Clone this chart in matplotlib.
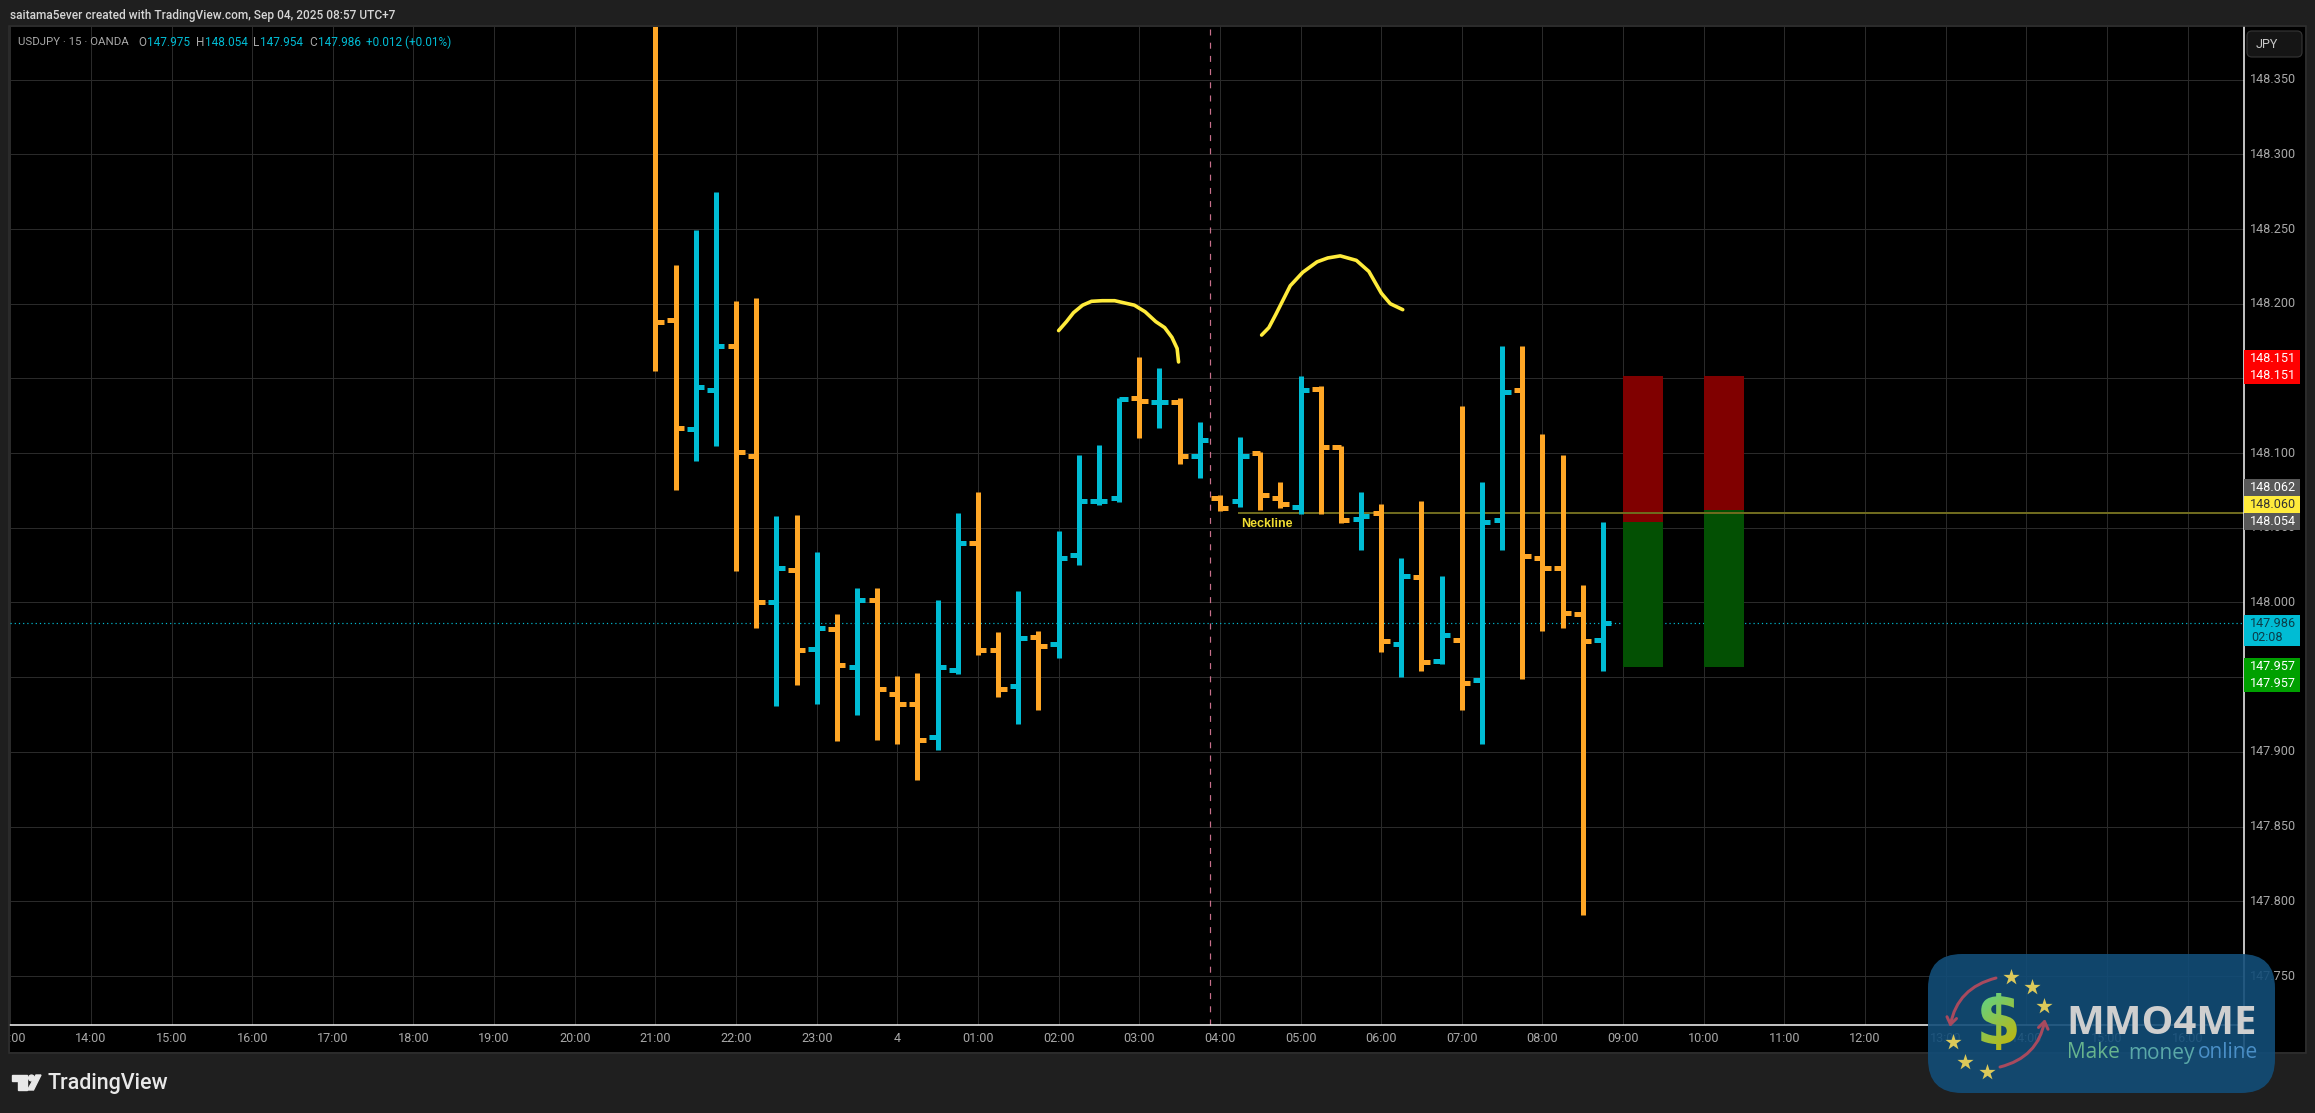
import matplotlib

matplotlib.use("Agg")
import matplotlib.pyplot as plt
import numpy as np
from matplotlib.font_manager import FontProperties
from matplotlib.patches import Circle, FancyArrowPatch, FancyBboxPatch, PathPatch, Polygon, Rectangle
from matplotlib.path import Path
from matplotlib.textpath import TextPath

plt.rcParams["font.family"] = ["Roboto", "DejaVu Sans"]

# 15-minute bars, first bar is 21:00 (its open and high are above the pane)
opens = [148.400, 148.189, 148.116, 148.142, 148.172, 148.098, 148.000, 148.022, 147.969, 147.982,
         147.957, 148.002, 147.939, 147.932, 147.910, 147.955, 148.040, 147.968, 147.944, 147.977,
         147.972, 148.032, 148.068, 148.070, 148.137, 148.134, 148.134, 148.098, 148.070, 148.068,
         148.100, 148.070, 148.064, 148.143, 148.104, 148.056, 148.060, 147.972, 148.017, 147.961,
         147.975, 147.948, 148.055, 148.142, 148.030, 148.023, 147.992, 147.975]
highs = [148.420, 148.226, 148.2495, 148.275, 148.202, 148.204, 148.058, 148.0585, 148.034, 147.992,
         148.010, 148.010, 147.951, 147.953, 148.002, 148.060, 148.074, 147.980, 148.008, 147.981,
         148.048, 148.099, 148.1055, 148.137, 148.164, 148.157, 148.137, 148.121, 148.072, 148.111,
         148.101, 148.0805, 148.1515, 148.145, 148.105, 148.074, 148.066, 148.030, 148.068, 148.018,
         148.1315, 148.0805, 148.1715, 148.1715, 148.113, 148.099, 148.012, 148.054]
lows = [148.155, 148.075, 148.095, 148.105, 148.021, 147.983, 147.931, 147.945, 147.932, 147.907,
        147.925, 147.908, 147.905, 147.881, 147.901, 147.952, 147.965, 147.937, 147.919, 147.928,
        147.963, 148.025, 148.065, 148.067, 148.110, 148.117, 148.0925, 148.083, 148.061, 148.064,
        148.062, 148.063, 148.059, 148.059, 148.053, 148.035, 147.967, 147.950, 147.954, 147.959,
        147.928, 147.905, 148.035, 147.949, 147.981, 147.983, 147.791, 147.954]
closes = [148.188, 148.117, 148.144, 148.172, 148.101, 148.000, 148.023, 147.968, 147.983, 147.958,
          148.002, 147.942, 147.932, 147.908, 147.957, 148.040, 147.968, 147.942, 147.976, 147.971,
          148.030, 148.068, 148.068, 148.136, 148.135, 148.134, 148.098, 148.109, 148.063, 148.098,
          148.072, 148.066, 148.142, 148.104, 148.055, 148.058, 147.974, 148.018, 147.960, 147.978,
          147.946, 148.054, 148.141, 148.031, 148.023, 147.993, 147.974, 147.986]
# 1 = blue bar, 0 = orange bar
bar_up = [0, 0, 1, 1, 0, 0, 1, 0, 1, 0, 1, 0, 0, 0, 1, 1, 0, 0, 1, 0, 1, 1, 1, 1,
          0, 1, 0, 1, 0, 1, 0, 0, 1, 0, 0, 1, 0, 1, 0, 1, 0, 1, 1, 0, 0, 0, 0, 1]

# hand drawn tops
curve1_x = [20.0, 20.39, 20.74, 21.19, 21.63, 22.16, 22.78, 23.76, 24.29, 24.82, 25.26, 25.62, 25.88, 25.95]
curve1_y = [148.182, 148.188, 148.194, 148.199, 148.2016, 148.202, 148.202, 148.199, 148.1946, 148.188,
            148.184, 148.1775, 148.170, 148.161]
curve2_x = [30.07, 30.43, 30.78, 31.49, 32.11, 32.82, 33.35, 33.97, 34.77, 35.39, 36.01, 36.45, 37.07]
curve2_y = [148.179, 148.184, 148.193, 148.212, 148.221, 148.228, 148.2306, 148.232, 148.229, 148.2216,
            148.207, 148.200, 148.196]

# position tools: x range, top, entry, bottom
pos_x0 = [48, 52]
pos_x1 = [50, 54]
pos_top = [148.1515, 148.1515]
pos_entry = [148.054, 148.062]
pos_bottom = [147.957, 147.957]

neckline = 148.060
last_price = 147.986
session_x = 27.49

time_ticks = list(range(-32, 77, 4))
time_labels = ["13:00", "14:00", "15:00", "16:00", "17:00", "18:00", "19:00", "20:00", "21:00", "22:00",
               "23:00", "4", "01:00", "02:00", "03:00", "04:00", "05:00", "06:00", "07:00", "08:00",
               "09:00", "10:00", "11:00", "12:00", "13:00", "14:00", "15:00", "16:00"]
price_ticks = [148.35, 148.30, 148.25, 148.20, 148.15, 148.10, 148.05, 148.00, 147.95, 147.90, 147.85, 147.80, 147.75]

# price label boxes: text, price, shift up in px, face, text colour
tag_text = ["148.151", "148.151", "148.062", "148.060", "148.054", "147.957", "147.957"]
tag_price = [148.151, 148.151, 148.062, 148.060, 148.054, 147.957, 147.957]
tag_shift = [18, 1, 22, 8, 0, 0, -17]
tag_face = ["#ff0000", "#ff0000", "#585858", "#ffeb3b", "#585858", "#00a000", "#00a000"]
tag_color = ["white", "white", "white", "#333333", "white", "white", "white"]

W, H = 2315, 1113
BG = "#1f1f1f"
FRAME = "#2f2f2f"
GRID = "#2a2a2a"
UP = "#00bcd4"
DOWN = "#ffa726"
LABEL = "#a8a8a8"
FS = 9.1
PX_LEFT, PX_RIGHT, PX_TOP, PX_BOTTOM, PX_END, PX_FOOT = 9.5, 2243.5, 27, 1025, 2305, 1052
PRICE_PER_PX = 0.05 / 74.7
X0 = (PX_LEFT - 655.4) / 20.16
X1 = (PX_RIGHT - 655.4) / 20.16
Y1 = 148.30 + (154.3 - PX_TOP) * PRICE_PER_PX
Y0 = 148.30 - (PX_BOTTOM - 154.3) * PRICE_PER_PX


def box(l, t, r, b):
    return [l / W, 1 - b / H, (r - l) / W, (b - t) / H]


def lw(px):
    return px * 72 / 100


fig = plt.figure(figsize=(W / 100, H / 100), dpi=100, facecolor=BG)

ax = fig.add_axes(box(PX_LEFT, PX_TOP, PX_RIGHT, PX_BOTTOM), facecolor="black")
ax_time = fig.add_axes(box(PX_LEFT, PX_BOTTOM, PX_RIGHT, PX_FOOT), facecolor="black", sharex=ax)
ax_price = fig.add_axes(box(PX_RIGHT, PX_TOP, PX_END, PX_FOOT), facecolor="black")
over = fig.add_axes([0, 0, 1, 1], facecolor="none")
over.set_xlim(0, W)
over.set_ylim(H, 0)
over.axis("off")

# main pane
ax.set_xlim(X0, X1)
ax.set_ylim(Y0, Y1)
ax.set_yticks(price_ticks)
ax.set_xticks(time_ticks)
ax.grid(True, color=GRID, linewidth=lw(1))
ax.set_axisbelow(True)
ax.tick_params(left=False, bottom=False, labelleft=False, labelbottom=False)
for s in ax.spines.values():
    s.set_visible(False)

x = np.arange(len(opens))
colors = [UP if u else DOWN for u in bar_up]
ax.axvline(session_x, color="#c9708c", linewidth=lw(1.2), linestyle=(0, (5, 6)), zorder=1.5)
ax.axhline(last_price, color=UP, linewidth=lw(1.2), linestyle=(0, (1, 2.5)), zorder=1.6)

for i in range(len(pos_x0)):
    ax.fill_between([pos_x0[i], pos_x1[i]], pos_entry[i], pos_top[i], color="#800000", linewidth=0, zorder=2)
    ax.fill_between([pos_x0[i], pos_x1[i]], pos_bottom[i], pos_entry[i], color="#035003", linewidth=0, zorder=2)

ax.plot([28.9, X1], [neckline, neckline], color="#6e6a1e", linewidth=lw(2), solid_capstyle="butt", zorder=2.2)
ax.text(30.35, neckline - 11.5 * PRICE_PER_PX, "Neckline", color="#f0dc32", fontsize=9, fontweight="bold",
        ha="center", va="center", zorder=4, family=["Liberation Sans", "DejaVu Sans"])

ax.vlines(x, lows, highs, colors=colors, linewidth=lw(5), capstyle="butt", zorder=3)
ax.hlines(opens, x - 0.42, x, colors=colors, linewidth=lw(5), capstyle="butt", zorder=3)
ax.hlines(closes, x, x + 0.42, colors=colors, linewidth=lw(5), capstyle="butt", zorder=3)

for cx, cy in [(curve1_x, curve1_y), (curve2_x, curve2_y)]:
    ax.plot(cx, cy, color="#ffeb3b", linewidth=lw(3.6), solid_capstyle="round", solid_joinstyle="round", zorder=4)

# time axis
ax_time.set_ylim(0, 1)
ax_time.set_xticks(time_ticks)
ax_time.set_xticklabels(time_labels)
ax_time.set_yticks([])
ax_time.tick_params(axis="x", length=0, pad=-14.5, labelsize=FS, labelcolor=LABEL)
for lab in ax_time.get_xticklabels():
    lab.set_clip_box(ax_time.bbox)
    lab.set_clip_on(True)
for s in ax_time.spines.values():
    s.set_visible(False)
ax_time.spines["top"].set_visible(True)
ax_time.spines["top"].set_color("white")
ax_time.spines["top"].set_linewidth(lw(1.5))

# price axis
ax_price.set_xlim(0, PX_END - PX_RIGHT)
ax_price.set_ylim(Y1 - (PX_FOOT - PX_TOP) * PRICE_PER_PX, Y1)
ax_price.set_xticks([])
ax_price.set_yticks([])
for s in ax_price.spines.values():
    s.set_visible(False)
ax_price.spines["left"].set_visible(True)
ax_price.spines["left"].set_color("white")
ax_price.spines["left"].set_linewidth(lw(1.5))
for p in price_ticks:
    ax_price.text(29.5, p, f"{p:.3f}", color=LABEL, fontsize=FS, ha="center", va="center")
for t, p, sh, fc, tc in zip(tag_text, tag_price, tag_shift, tag_face, tag_color):
    c = p + sh * PRICE_PER_PX
    ax_price.barh(c, 56, height=17 * PRICE_PER_PX, left=0.5, color=fc, linewidth=0, zorder=3)
    ax_price.text(29.5, c, t, color=tc, fontsize=FS, ha="center", va="center", zorder=4)
# countdown tag
c = last_price - 7 * PRICE_PER_PX
ax_price.barh(c, 56, height=31 * PRICE_PER_PX, left=0.5, color=UP, linewidth=0, zorder=3)
ax_price.text(29.5, last_price, "147.986", color="#0b3d4a", fontsize=FS, ha="center", va="center", zorder=4)
ax_price.text(8, last_price - 14 * PRICE_PER_PX, "02:08", color="#0b3d4a", fontsize=FS, ha="left", va="center", zorder=4)

# currency button
over.add_patch(FancyBboxPatch((2249, 33), 51, 22, boxstyle="round,pad=2,rounding_size=5", facecolor="#151515",
                              edgecolor="#333333", linewidth=lw(1.2), zorder=5))
over.text(2256, 44.5, "JPY", color="#c8c8c8", fontsize=FS, va="center", ha="left", zorder=6)

# outer frame
over.add_patch(Rectangle((PX_LEFT - 1, PX_TOP - 1), PX_END - PX_LEFT + 2, PX_FOOT - PX_TOP + 2, fill=False,
                         edgecolor=FRAME, linewidth=lw(1.5), zorder=1))

# header and legend
over.text(10, 15, "saitama5ever created with TradingView.com, Sep 04, 2025 08:57 UTC+7", color="#d6d6d6",
          fontsize=8.55, fontweight="medium", va="center", ha="left")
over.text(18, 42, "USDJPY · 15 · OANDA", color=LABEL, fontsize=8.2, va="center", ha="left", zorder=6)
legend_parts = [(138.5, "O", LABEL), (147, "147.975", UP), (196, "H", LABEL), (205, "148.054", UP),
                (253, "L", LABEL), (260, "147.954", UP), (309, "C", LABEL), (318, "147.986", UP),
                (365.5, "+0.012 (+0.01%)", UP)]
for px, s, col in legend_parts:
    over.text(px, 42, s, color=col, fontsize=8.45, va="center", ha="left", zorder=6)

# TradingView logo
over.add_patch(Polygon([(12, 1075), (27, 1075), (27, 1090), (18, 1090), (18, 1081), (12, 1081)], color="#e8e8e8"))
over.add_patch(Circle((31.5, 1078), 2.9, color="#e8e8e8"))
over.add_patch(Polygon([(36, 1075), (41, 1075), (33.5, 1090), (27.5, 1090)], color="#e8e8e8"))
over.text(48, 1083, "TradingView", color="#e8e8e8", fontsize=15.5, fontweight="medium", va="center", ha="left")

# watermark
over.add_patch(FancyBboxPatch((1928 + 34, 954 + 34), 347 - 68, 139 - 68, boxstyle="round,pad=34,rounding_size=34",
                              facecolor="#124d78", edgecolor="none", alpha=0.9, zorder=8))
star_x = [2010.7, 2032.3, 2044, 1953.3, 1965.3, 1986.7]
star_y = [976.7, 987.3, 1006, 1042.3, 1061.7, 1071.7]
over.scatter(star_x, star_y, marker="*", s=150, color="#dcc95a", linewidth=0, zorder=10)
over.add_patch(FancyArrowPatch((1996, 978), (1950, 1027), connectionstyle="arc3,rad=0.32",
                               arrowstyle="->,head_length=5,head_width=3.5", color="#a84a5e", linewidth=lw(3),
                               zorder=9, shrinkA=0, shrinkB=0))
over.add_patch(FancyArrowPatch((2000, 1067), (2045, 1019), connectionstyle="arc3,rad=0.32",
                               arrowstyle="->,head_length=5,head_width=3.5", color="#a84a5e", linewidth=lw(3),
                               zorder=9, shrinkA=0, shrinkB=0))
# dollar sign with a green to yellow fill
dollar = TextPath((0, 0), "$", size=76, prop=FontProperties(family="DejaVu Sans", weight="bold"))
bb = dollar.get_extents()
verts = dollar.vertices.copy()
verts[:, 0] = 1999 + (verts[:, 0] - bb.x0 - bb.width / 2) * 0.85
verts[:, 1] = 1021.5 - (verts[:, 1] - bb.y0 - bb.height / 2) * 0.97
dollar_patch = PathPatch(Path(verts, dollar.codes), facecolor="none", edgecolor="none", zorder=11)
over.add_patch(dollar_patch)
grad = np.linspace(0, 1, 64)[:, None] * 0.6 + np.linspace(0, 1, 64)[None, :] * 0.4
start, stop = np.array([0.35, 0.83, 0.55]), np.array([0.8, 0.7, 0.0])
rgb = start[None, None, :] * (1 - grad[..., None]) + stop[None, None, :] * grad[..., None]
im = over.imshow(rgb, extent=(1979, 2019, 1050, 993), aspect="auto", zorder=11)
im.set_clip_path(dollar_patch)
over.set_xlim(0, W)
over.set_ylim(H, 0)

over.text(2066, 1023, "MMO4ME", color="#cfcfcf", fontsize=28.8, fontweight="bold", va="center", ha="left",
          family=["Open Sans", "DejaVu Sans"], zorder=11)
for px, s, col in [(2067, "Make", "#67b48e"), (2128, "money", "#5aa8a8"), (2198, "online", "#4a8fc7")]:
    over.text(px, 1053, s, color=col, fontsize=15, va="center", ha="left", family=["Open Sans", "DejaVu Sans"], zorder=11)

fig.savefig("out.png", dpi=100, facecolor=BG)
